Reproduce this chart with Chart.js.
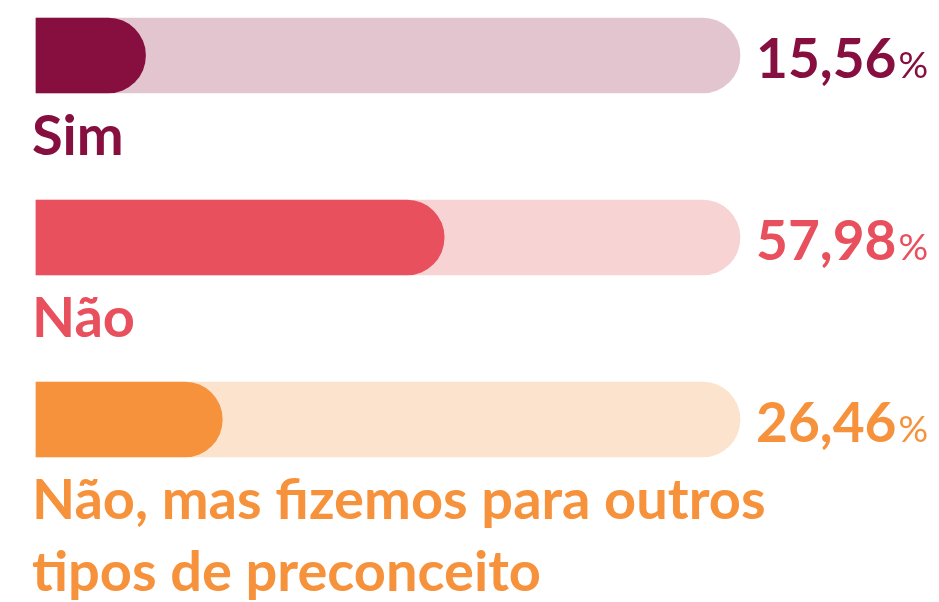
<!DOCTYPE html>
<html>
<head>
<meta charset="utf-8">
<script src="https://cdn.jsdelivr.net/npm/chart.js@4.4.0/dist/chart.umd.min.js"></script>
<style>
  html, body { margin: 0; padding: 0; background: #fff; }
  canvas { display: block; }
</style>
</head>
<body>
<canvas id="myChart" width="939" height="602"></canvas>
<script>
const labels = [['Sim'], ['Não'], ['Não, mas fizemos para outros', 'tipos de preconceito']];
const values = [15.56, 57.98, 26.46];
const track = [100, 100, 100];

const barColors = ['#860f40', '#e8505e', '#f7923c'];
const trackColors = ['#e2c5ce', '#f7d3d4', '#fce3ce'];

const FONT = 'Lato, "DejaVu Sans", sans-serif';

const textPlugin = {
  id: 'textPlugin',
  afterDatasetsDraw(chart) {
    const c = chart.ctx;
    const area = chart.chartArea;
    const yScale = chart.scales.y;
    c.save();
    c.textAlign = 'left';
    c.textBaseline = 'alphabetic';
    values.forEach((v, i) => {
      const y = yScale.getPixelForValue(i);
      c.fillStyle = barColors[i];

      // value with smaller percent sign
      const num = v.toFixed(2).replace('.', ',');
      c.font = 'bold 55px ' + FONT;
      const x0 = area.right + 16;
      c.fillText(num, x0, y + 22);
      const w = c.measureText(num).width;
      c.font = '37px ' + FONT;
      c.fillText('%', x0 + w + 2, y + 22);

      // category label under the bar
      c.font = 'bold 56px ' + FONT;
      labels[i].forEach((line, j) => {
        c.fillText(line, 32, y + 99 + j * 72);
      });
    });
    c.restore();
  }
};

const ctx = document.getElementById('myChart').getContext('2d');
const myChart = new Chart(ctx, {
  type: 'bar',
  data: {
    labels: labels.map((l) => l.join(' ')),
    datasets: [
      {
        label: 'Valor',
        data: values,
        backgroundColor: barColors,
        borderRadius: 38,
        borderSkipped: 'start',
        barThickness: 75,
        order: 0,
        clip: false,
      },
      {
        label: 'Total',
        data: track,
        backgroundColor: trackColors,
        borderRadius: 38,
        borderSkipped: 'start',
        barThickness: 75,
        order: 1,
        clip: false,
      },
    ],
  },
  options: {
    indexAxis: 'y',
    responsive: false,
    animation: false,
    layout: {
      padding: { left: 36, right: 199, top: 55.5, bottom: 182.5 },
    },
    datasets: {
      bar: { grouped: false },
    },
    scales: {
      x: { display: false, min: 0, max: 100 },
      y: { display: false, offset: false },
    },
    plugins: {
      legend: { display: false },
      tooltip: { enabled: false },
    },
  },
  plugins: [textPlugin],
});
</script>
</body>
</html>
